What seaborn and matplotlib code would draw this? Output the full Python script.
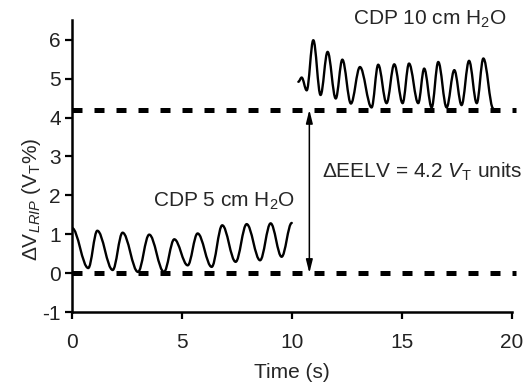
import matplotlib
matplotlib.use("Agg")
import matplotlib.pyplot as plt
from matplotlib.path import Path
from matplotlib.patches import PathPatch
import seaborn as sns
import pandas as pd

# ---- data (turning points of the RIP trace) ----
t_cdp5 = [0.0, 0.74, 1.15, 1.85, 2.3, 3.0, 3.51, 4.18, 4.65, 5.26, 5.71, 6.35,
          6.83, 7.44, 7.94, 8.55, 9.03, 9.53, 9.99]
v_cdp5 = [1.16, 0.13, 1.09, 0.08, 1.04, 0.03, 0.99, 0.03, 0.87, 0.2, 1.02, 0.16,
          1.23, 0.29, 1.26, 0.33, 1.28, 0.42, 1.29]

t_cdp10 = [10.29, 10.44, 10.67, 10.97, 11.3, 11.62, 11.99, 12.29, 12.68, 13.09,
           13.62, 13.92, 14.3, 14.65, 15.03, 15.32, 15.74, 16.01, 16.35, 16.65,
           17.03, 17.38, 17.71, 18.05, 18.4, 18.7, 19.15]
v_cdp10 = [4.92, 5.03, 4.7, 5.99, 4.58, 5.69, 4.49, 5.49, 4.36, 5.3,
           4.26, 5.36, 4.37, 5.37, 4.37, 5.39, 4.37, 5.26, 4.26, 5.43,
           4.26, 5.22, 4.32, 5.46, 4.37, 5.52, 4.23]

baseline_levels = [0.0, 4.2]
baseline_span = [0.0, 20.2]
delta_eelv = 4.2
arrow_time = 10.79

x_ticks = [0, 5, 10, 15, 20]
y_ticks = [-1, 0, 1, 2, 3, 4, 5, 6]

sns.set_style("ticks")
plt.rcParams['font.family'] = ['Liberation Sans', 'DejaVu Sans']
plt.rcParams['mathtext.fontset'] = 'custom'
plt.rcParams['mathtext.rm'] = 'Liberation Sans'
plt.rcParams['mathtext.it'] = 'Liberation Sans:italic'
plt.rcParams['mathtext.bf'] = 'Liberation Sans:bold'

fig = plt.figure(figsize=(5.24, 3.84), dpi=100)
ax = fig.add_axes([0.1374, 0.1875, 0.8396, 0.7605])


def smooth_trace(ts, vs):
    """Smooth curve through turning points (horizontal tangents at each)."""
    k = 0.3642
    verts = [(ts[0], vs[0])]
    codes = [Path.MOVETO]
    for i in range(1, len(ts)):
        dx = ts[i] - ts[i - 1]
        verts += [(ts[i - 1] + k * dx, vs[i - 1]),
                  (ts[i] - k * dx, vs[i]),
                  (ts[i], vs[i])]
        codes += [Path.CURVE4] * 3
    return PathPatch(Path(verts, codes), fill=False, edgecolor="black",
                     lw=1.7, capstyle="round", joinstyle="round", zorder=3)


for ts, vs in [(t_cdp5, v_cdp5), (t_cdp10, v_cdp10)]:
    ax.add_patch(smooth_trace(ts, vs))

for lvl in baseline_levels:
    dfb = pd.DataFrame({"t": baseline_span, "v": [lvl, lvl]})
    sns.lineplot(data=dfb, x="t", y="v", ax=ax, color="black", lw=3.6,
                 dashes=False, clip_on=False, zorder=1)
for line in ax.get_lines():
    line.set_dashes((2.0, 2.4))
    line.set_dash_capstyle("butt")

ax.annotate("", xy=(arrow_time, 0), xytext=(arrow_time, delta_eelv),
            arrowprops=dict(arrowstyle="<|-|>,head_width=0.2,head_length=0.8",
                            lw=1.1, color="black", shrinkA=0, shrinkB=0))

fs = 15
ax.text(16.27, 6.38, "CDP 10 cm H$_2$O", ha="center", va="baseline",
        fontsize=fs, clip_on=False)
ax.text(6.9, 1.71, "CDP 5 cm H$_2$O", ha="center", va="baseline", fontsize=fs)
ax.text(11.35, 2.46, "ΔEELV = 4.2 $V_\\mathrm{T}$ units", ha="left",
        va="baseline", fontsize=fs)

ax.set_xlim(0, 20)
ax.set_ylim(-1, 6.51)
ax.set_xticks(x_ticks)
ax.set_yticks(y_ticks)
ax.set_xticklabels([str(v) for v in x_ticks])
ax.set_yticklabels([str(v) for v in y_ticks])
ax.tick_params(axis="both", labelsize=fs, width=1.6, length=5, direction="out",
               color="black", labelcolor="#222222")
ax.tick_params(axis="x", pad=10)
ax.tick_params(axis="y", pad=3)

sns.despine(ax=ax)
for s in ["left", "bottom"]:
    ax.spines[s].set_linewidth(1.8)
    ax.spines[s].set_color("black")

ax.set_xlabel("Time (s)", fontsize=fs)
ax.set_ylabel("ΔV$_{LRIP}$ (V$_\\mathrm{T}$%)", fontsize=fs)
ax.xaxis.set_label_coords(0.5, -0.175)
ax.yaxis.set_label_coords(-0.065, 0.385)

fig.savefig("out.png", dpi=100)
